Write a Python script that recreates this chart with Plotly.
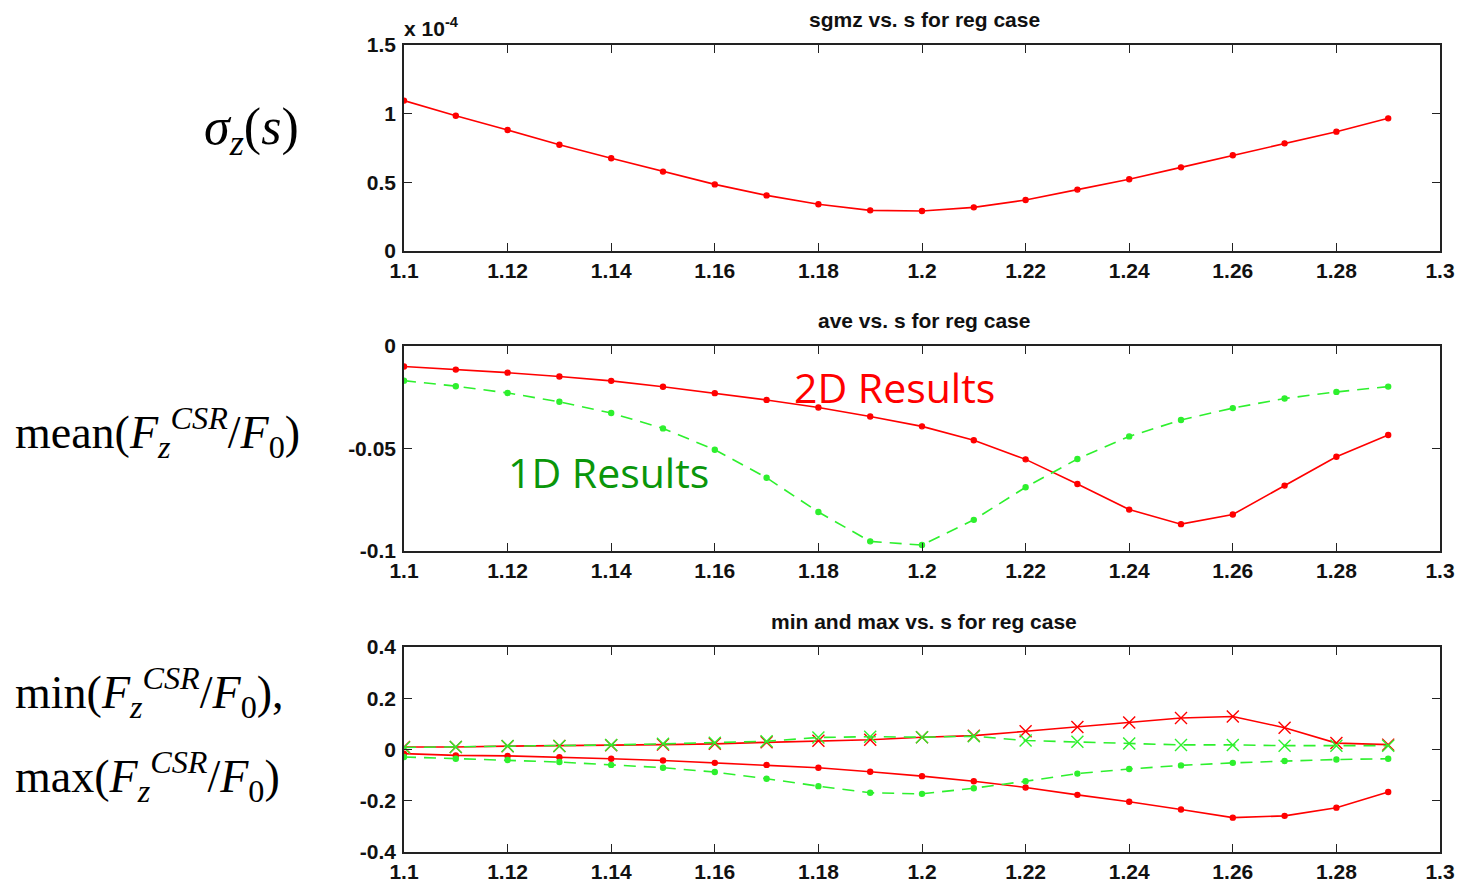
import plotly.graph_objects as go

# ---------------- data ----------------
s_vals = [1.10, 1.11, 1.12, 1.13, 1.14, 1.15, 1.16, 1.17, 1.18, 1.19,
          1.20, 1.21, 1.22, 1.23, 1.24, 1.25, 1.26, 1.27, 1.28, 1.29]

# sigma_z in units of 1e-4
sgmz = [1.095, 0.985, 0.881, 0.774, 0.675, 0.578, 0.485, 0.405, 0.340, 0.296,
        0.291, 0.318, 0.371, 0.447, 0.522, 0.609, 0.697, 0.784, 0.869, 0.966]

ave_2d = [-0.0100, -0.0115, -0.0130, -0.0149, -0.0170, -0.0199, -0.0230, -0.0263, -0.0300, -0.0344,
          -0.0392, -0.0460, -0.0553, -0.0673, -0.0798, -0.0869, -0.0822, -0.0681, -0.0540, -0.0434]
ave_1d = [-0.0169, -0.0196, -0.0229, -0.0272, -0.0327, -0.0402, -0.0506, -0.0643, -0.0810, -0.0953,
          -0.0971, -0.0848, -0.0689, -0.0551, -0.0441, -0.0361, -0.0303, -0.0256, -0.0224, -0.0198]

max_2d = [0.010, 0.010, 0.013, 0.014, 0.017, 0.019, 0.022, 0.028, 0.034, 0.038,
          0.048, 0.054, 0.071, 0.088, 0.105, 0.123, 0.129, 0.085, 0.025, 0.019]
max_1d = [0.008, 0.010, 0.014, 0.014, 0.018, 0.022, 0.026, 0.032, 0.047, 0.050,
          0.048, 0.052, 0.035, 0.030, 0.023, 0.018, 0.018, 0.015, 0.015, 0.015]
min_2d = [-0.016, -0.023, -0.025, -0.030, -0.036, -0.043, -0.052, -0.060, -0.071, -0.087,
          -0.104, -0.124, -0.148, -0.177, -0.204, -0.234, -0.266, -0.259, -0.227, -0.166]
min_1d = [-0.029, -0.036, -0.041, -0.049, -0.060, -0.071, -0.088, -0.114, -0.143, -0.169,
          -0.173, -0.151, -0.124, -0.094, -0.076, -0.062, -0.052, -0.045, -0.039, -0.036]

x_tickvals = [1.10, 1.12, 1.14, 1.16, 1.18, 1.20, 1.22, 1.24, 1.26, 1.28, 1.30]
x_ticktext = ["1.1", "1.12", "1.14", "1.16", "1.18", "1.2", "1.22", "1.24", "1.26", "1.28", "1.3"]
y1_tickvals = [0, 0.5, 1.0, 1.5]
y1_ticktext = ["0", "0.5", "1", "1.5"]
y2_tickvals = [-0.1, -0.05, 0]
y2_ticktext = ["-0.1", "-0.05", "0"]
y3_tickvals = [-0.4, -0.2, 0, 0.2, 0.4]
y3_ticktext = ["-0.4", "-0.2", "0", "0.2", "0.4"]

titles = ["sgmz vs. s for reg case", "ave vs. s for reg case", "min and max vs. s for reg case"]

# ---------------- style ----------------
W, H = 1468, 884
RED = "#ff0000"
GREEN = "#2ef02e"
DASH = "12px,8px"
tick_font = dict(family="Liberation Sans, Arial", size=21, color="#111", weight="bold")

def px_x(p):
    return p / W

def px_y(p):
    return 1 - p / H

x_dom = [px_x(404), px_x(1440)]
y_doms = [[px_y(251), px_y(45)], [px_y(551), px_y(346)], [px_y(852), px_y(647)]]

fig = go.Figure()

def line_trace(y, color, dash, symbol, axis_idx, msize):
    sfx = "" if axis_idx == 1 else str(axis_idx)
    return go.Scatter(
        x=s_vals, y=y, mode="lines+markers",
        line=dict(color=color, width=1.6, dash=dash),
        marker=dict(color=color, size=msize, symbol=symbol,
                    line=dict(color=color, width=1.4)),
        xaxis="x" + sfx, yaxis="y" + sfx, showlegend=False, hoverinfo="skip")

fig.add_trace(line_trace(sgmz, RED, "solid", "circle", 1, 5))
fig.add_trace(line_trace(ave_2d, RED, "solid", "circle", 2, 5))
fig.add_trace(line_trace(ave_1d, GREEN, DASH, "circle", 2, 5))
fig.add_trace(line_trace(max_2d, RED, "solid", "x-thin-open", 3, 12))
fig.add_trace(line_trace(min_2d, RED, "solid", "circle", 3, 5))
fig.add_trace(line_trace(max_1d, GREEN, DASH, "x-thin-open", 3, 12))
fig.add_trace(line_trace(min_1d, GREEN, DASH, "circle", 3, 5))

axis_common = dict(showline=True, linecolor="#222", linewidth=1.6, mirror="allticks",
                   ticks="inside", ticklen=8, tickwidth=1.4, tickcolor="#222",
                   showgrid=False, zeroline=False, tickfont=tick_font, fixedrange=True,
                   automargin=False)

y_ranges = [[0, 1.5], [-0.1, 0], [-0.4, 0.4]]
y_ticks = [(y1_tickvals, y1_ticktext), (y2_tickvals, y2_ticktext), (y3_tickvals, y3_ticktext)]

layout = dict(width=W, height=H, margin=dict(l=0, r=0, t=0, b=0, autoexpand=False),
              paper_bgcolor="white", plot_bgcolor="white", showlegend=False)
for i in range(3):
    sfx = "" if i == 0 else str(i + 1)
    layout["xaxis" + sfx] = dict(domain=x_dom, range=[1.1, 1.3], tickmode="array",
                                 tickvals=x_tickvals, ticktext=x_ticktext,
                                 anchor="y" + sfx, ticklabelstandoff=0, **axis_common)
    layout["yaxis" + sfx] = dict(domain=y_doms[i], range=y_ranges[i], tickmode="array",
                                 tickvals=y_ticks[i][0], ticktext=y_ticks[i][1],
                                 anchor="x" + sfx, ticklabelstandoff=2, **axis_common)
fig.update_layout(**layout)

annotations = []
title_font = dict(family="Liberation Sans, Arial", size=21, color="#111", weight="bold")
for t, py in zip(titles, [19, 320, 621]):
    annotations.append(dict(text=t, x=px_x(924), y=px_y(py), xref="paper", yref="paper",
                            showarrow=False, xanchor="center", yanchor="middle", font=title_font))

annotations.append(dict(text="x 10<sup>-4</sup>", x=px_x(402), y=px_y(27), xref="paper", yref="paper",
                        showarrow=False, xanchor="left", yanchor="middle",
                        font=dict(family="Liberation Sans, Arial", size=21, color="#111", weight="bold")))

annotations.append(dict(text="2D Results", x=px_x(894), y=px_y(387), xref="paper", yref="paper",
                        showarrow=False, xanchor="center", yanchor="middle",
                        font=dict(family="Open Sans", size=41, color=RED)))
annotations.append(dict(text="1D Results", x=px_x(608), y=px_y(472), xref="paper", yref="paper",
                        showarrow=False, xanchor="center", yanchor="middle",
                        font=dict(family="Open Sans", size=41, color="#0a960a")))

serif_big = dict(family="Liberation Serif, Times New Roman", size=52, color="black")
serif = dict(family="Liberation Serif, Times New Roman", size=46, color="black")
annotations.append(dict(text="<i>σ</i><sub><i>z</i></sub>(<i>s</i>)", x=px_x(301), y=px_y(130),
                        xref="paper", yref="paper", showarrow=False, xanchor="right",
                        yanchor="middle", font=serif_big))
annotations.append(dict(text="mean(<i>F</i><sub><i>z</i></sub><sup><i>CSR</i></sup>/<i>F</i><sub>0</sub>)",
                        x=px_x(13), y=px_y(432), xref="paper", yref="paper", showarrow=False,
                        xanchor="left", yanchor="middle", font=serif))
annotations.append(dict(text="min(<i>F</i><sub><i>z</i></sub><sup><i>CSR</i></sup>/<i>F</i><sub>0</sub>),",
                        x=px_x(13), y=px_y(692), xref="paper", yref="paper", showarrow=False,
                        xanchor="left", yanchor="middle", font=serif))
annotations.append(dict(text="max(<i>F</i><sub><i>z</i></sub><sup><i>CSR</i></sup>/<i>F</i><sub>0</sub>)",
                        x=px_x(13), y=px_y(776), xref="paper", yref="paper", showarrow=False,
                        xanchor="left", yanchor="middle", font=serif))

fig.update_layout(annotations=annotations)
fig.write_html("out.html")
